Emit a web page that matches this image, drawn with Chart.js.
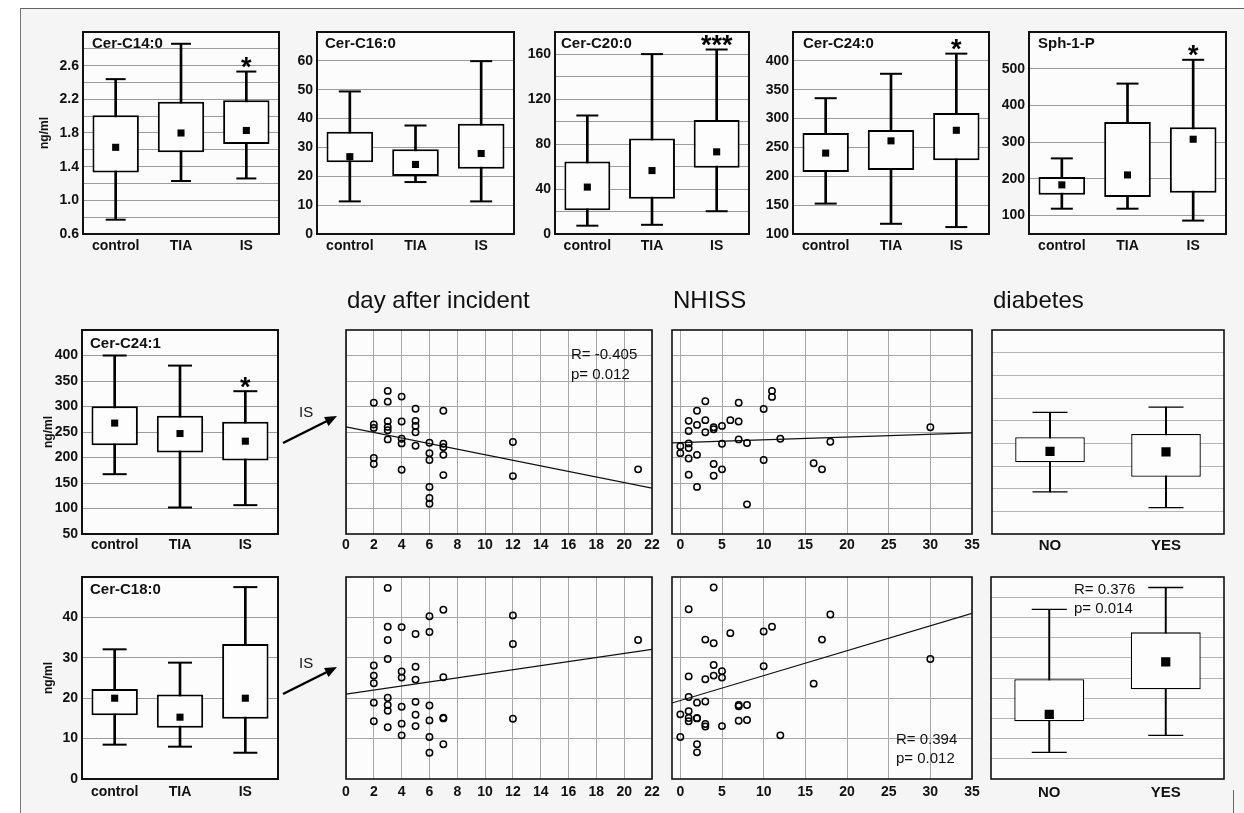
<!DOCTYPE html>
<html><head><meta charset="utf-8">
<script src="https://cdn.jsdelivr.net/npm/chart.js@4.4.0/dist/chart.umd.min.js"></script>
<style>
html,body{margin:0;padding:0;background:#fff;}
body{width:1244px;height:813px;position:relative;overflow:hidden;font-family:"Liberation Sans",Arial,sans-serif;}
#frame{position:absolute;left:20px;top:8px;width:1224px;height:805px;background:#f5f5f5;border-top:1.5px solid #666;border-left:1px solid #777;box-sizing:border-box;}
#rseg{position:absolute;left:1233px;top:790px;width:1px;height:23px;background:#666;}
canvas{position:absolute;}
#ov{position:absolute;left:0;top:0;z-index:5;}
</style></head><body>
<div id="frame"></div><div id="rseg"></div>
<svg id="ov" width="1244" height="813" xmlns="http://www.w3.org/2000/svg" font-family="Liberation Sans, Arial, sans-serif">
  <text x="347" y="308" font-size="24" fill="#111">day after incident</text>
  <text x="673" y="308" font-size="24" fill="#111">NHISS</text>
  <text x="993" y="308" font-size="24" fill="#111">diabetes</text>
  <text x="571" y="359" font-size="15" fill="#111">R= -0.405</text>
  <text x="571" y="379" font-size="15" fill="#111">p= 0.012</text>
  <text x="896" y="744" font-size="15" fill="#111">R= 0.394</text>
  <text x="896" y="763" font-size="15" fill="#111">p= 0.012</text>
  <text x="1074" y="594" font-size="15" fill="#111">R= 0.376</text>
  <text x="1074" y="613" font-size="15" fill="#111">p= 0.014</text>
  <text x="299" y="417" font-size="15" fill="#111">IS</text>
  <text x="299" y="668" font-size="15" fill="#111">IS</text>
  <line x1="283" y1="443" x2="327" y2="421" stroke="#000" stroke-width="2.5"/>
  <polygon points="337,416 328.5,425.9 324.1,416.9" fill="#000"/>
  <line x1="283" y1="694" x2="327" y2="672" stroke="#000" stroke-width="2.5"/>
  <polygon points="337,667 328.5,676.9 324.1,667.9" fill="#000"/>
</svg>
<script>
// ---------- DATA ----------
const groups = ['control', 'TIA', 'IS'];
const diabCats = ['NO', 'YES'];

// Cer-C14:0
const c14Min = [0.77, 1.23, 1.26], c14Q1 = [1.33, 1.57, 1.67], c14Mean = [1.63, 1.80, 1.83], c14Q3 = [2.01, 2.17, 2.19], c14Max = [2.44, 2.86, 2.53];
const c14Grid = [0.8, 1.0, 1.2, 1.4, 1.6, 1.8, 2.0, 2.2, 2.4, 2.6, 2.8];
const c14Labels = [0.6, 1.0, 1.4, 1.8, 2.2, 2.6];
// Cer-C16:0
const c16Min = [11.3, 18.0, 11.3], c16Q1 = [24.9, 20.1, 22.6], c16Mean = [26.8, 24.1, 27.9], c16Q3 = [35.4, 29.4, 38.2], c16Max = [49.4, 37.6, 59.9];
const c16Grid = [10, 20, 30, 40, 50, 60];
const c16Labels = [0, 10, 20, 30, 40, 50, 60];
// Cer-C20:0
const c20Min = [7.4, 8.2, 20.3], c20Q1 = [21.2, 31.5, 59.1], c20Mean = [41.8, 56.5, 73.2], c20Q3 = [64.7, 85.0, 101.5], c20Max = [105.6, 160.3, 164.4];
const c20Grid = [20, 40, 60, 80, 100, 120, 140, 160];
const c20Labels = [0, 40, 80, 120, 160];
// Cer-C24:0
const c240Min = [152.7, 117.7, 112.0], c240Q1 = [207.6, 211.0, 227.6], c240Mean = [240.2, 261.4, 279.7], c240Q3 = [275.2, 280.3, 309.5], c240Max = [335.3, 377.6, 412.5];
const c240Grid = [150, 200, 250, 300, 350, 400];
const c240Labels = [100, 150, 200, 250, 300, 350, 400];
// Sph-1-P
const sphMin = [118.9, 118.9, 86.5], sphQ1 = [156.8, 150.5, 162.0], sphMean = [183.8, 210.8, 308.0], sphQ3 = [205.4, 355.0, 340.5], sphMax = [255.9, 459.5, 524.3];
const sphGrid = [100, 200, 300, 400, 500];
const sphLabels = [100, 200, 300, 400, 500];
// Cer-C24:1
const c241Min = [167.3, 102.0, 106.6], c241Q1 = [224.0, 210.0, 194.3], c241Mean = [267.5, 247.0, 232.0], c241Q3 = [300.4, 282.0, 270.0], c241Max = [400.0, 380.2, 330.0];
const c241Grid = [100, 150, 200, 250, 300, 350, 400];
const c241Labels = [50, 100, 150, 200, 250, 300, 350, 400];
// Cer-C18:0
const c18Min = [8.5, 8.0, 6.5], c18Q1 = [15.8, 12.7, 14.9], c18Mean = [20.0, 15.3, 20.0], c18Q3 = [22.3, 20.9, 33.4], c18Max = [32.1, 28.8, 47.5];
const c18Grid = [10, 20, 30, 40];
const c18Labels = [0, 10, 20, 30, 40];

// diabetes (IS patients)
const dC241Min = [143.0, 108.3], dC241Q1 = [208.0, 176.3], dC241Mean = [232.4, 231.0], dC241Q3 = [263.5, 270.8], dC241Max = [318.1, 330.0];
const dC241Grid = [100, 150, 200, 250, 300, 350, 400, 450];
const dC18Min = [6.6, 10.8], dC18Q1 = [14.3, 22.2], dC18Mean = [16.0, 29.0], dC18Q3 = [24.7, 36.3], dC18Max = [42.0, 47.4];
const dC18Grid = [5, 10, 15, 20, 25, 30, 35, 40, 45];

// scatter: Cer-C24:1 vs day after incident
const day241X = [2,2,2,2,2, 3,3,3,3,3,3, 4,4,4,4,4, 5,5,5,5,5, 6,6,6,6,6,6, 7,7,7,7,7, 12,12, 21];
const day241Y = [307.5,264.6,258,199.2,187.3, 330.6,309.5,271.2,260,253.4,235.5, 319.4,270.5,236.9,227.6,176.1, 295.6,271.9,262,249.4,223, 228.9,208.5,195.2,142.4,120.6,109.4, 291.7,227,220.3,205.2,165.5, 230.3,163.5, 176.8];
const day241FitX = [0, 22], day241FitY = [260, 140];
// scatter: Cer-C18:0 vs day after incident
const day18X = [2,2,2,2,2, 3,3,3,3,3,3,3,3, 4,4,4,4,4,4, 5,5,5,5,5,5, 6,6,6,6,6,6, 7,7,7,7,7, 12,12,12, 21];
const day18Y = [28.1,25.6,23.7,18.9,14.3, 47.3,37.7,34.4,29.7,20.1,18.3,16.9,12.8, 37.6,26.6,25.1,17.9,13.7,10.8, 35.9,27.8,24.6,19.1,15.9,13.1, 40.3,36.4,18.2,14.5,10.4,6.5, 41.9,25.2,15.2,15.0,8.6, 40.5,33.4,14.9, 34.4];
const day18FitX = [0, 22], day18FitY = [21.0, 32.1];
// scatter: Cer-C24:1 vs NHISS
const nh241X = [0,0,1,1,1,1,1,1,2,2,2,2,3,3,3,4,4,4,4,5,5,5,6,7,7,7,8,8,10,10,11,11,12,16,17,18,30];
const nh241Y = [222.3,208.5,271.9,252.1,227.6,218.4,197.9,166.2,291.7,263.9,205.2,142.4,310.2,273.2,249.4,259.3,255.3,187.3,164.2,262,227,176.8,273.2,307.5,270.5,235.5,228.3,108.1,295,195.2,330.6,318.8,236.9,188.6,176.8,230.9,259.3];
const nh241FitX = [-1, 35], nh241FitY = [228.6, 248.4];
// scatter: Cer-C18:0 vs NHISS
const nh18X = [4,1,18,11,10,6,3,4,17,30,4,10,5,5,4,3,1,16,1,2,3,7,7,8,1,0,1,1,2,2,3,3,5,7,8,12,0,2,2];
const nh18Y = [47.4,42.0,40.7,37.7,36.5,36.1,34.5,33.6,34.5,29.7,28.2,27.9,26.7,25.1,25.6,24.7,25.4,23.6,20.3,18.9,19.2,18.3,18.0,18.3,16.8,16.0,15.1,14.3,15.1,15.0,13.6,13.0,13.1,14.4,14.6,10.8,10.4,8.6,6.6];
const nh18FitX = [-1, 35], nh18FitY = [18.8, 41.0];

const dayTicks = [0, 2, 4, 6, 8, 10, 12, 14, 16, 18, 20, 22];
const nhTicks = [0, 5, 10, 15, 20, 25, 30, 35];

// ---------- RENDERING ----------
const FONTF = '"Liberation Sans", Arial, Helvetica, sans-serif';
const TXT = '#111';

const framePlugin = {
  id: 'frame',
  beforeDraw(chart, args, o) {
    const a = chart.chartArea, ctx = chart.ctx;
    ctx.save(); ctx.fillStyle = '#fcfcfc';
    ctx.fillRect(a.left, a.top, a.right - a.left, a.bottom - a.top); ctx.restore();
  },
  afterDraw(chart, args, o) {
    const a = chart.chartArea, ctx = chart.ctx;
    ctx.save();
    ctx.strokeStyle = '#111'; ctx.lineWidth = o.lw || 2;
    ctx.strokeRect(a.left, a.top, a.right - a.left, a.bottom - a.top);
    if (o.title) {
      ctx.fillStyle = TXT; ctx.font = 'bold 15px ' + FONTF; ctx.textBaseline = 'alphabetic';
      ctx.fillText(o.title, a.left + o.tx, a.top + o.ty);
    }
    if (o.star) {
      const x = chart.scales.x.getPixelForValue(o.starIdx);
      const y = chart.scales.y.getPixelForValue(o.starVal) - 11;
      ctx.font = 'bold 27px ' + FONTF; ctx.textAlign = 'center'; ctx.textBaseline = 'alphabetic';
      ctx.fillStyle = '#000';
      ctx.fillText(o.star, x, y + 0.58 * 27);
    }
    ctx.restore();
  }
};

function place(box, pad, yW, xH) {
  const c = document.createElement('canvas');
  const w = (box[2] - box[0]) + yW + pad.l + pad.r, h = (box[3] - box[1]) + xH + pad.t + pad.b;
  c.width = w; c.height = h;
  c.style.left = (box[0] - yW - pad.l) + 'px'; c.style.top = (box[1] - pad.t) + 'px';
  c.style.width = w + 'px'; c.style.height = h + 'px';
  document.body.appendChild(c);
  return c;
}

function boxPanel(o) {
  const pad = { l: 4, t: 14, r: 8, b: 4 };
  const c = place(o.box, pad, o.yW, o.xH);
  new Chart(c, {
    type: 'bar',
    data: {
      labels: o.cats,
      datasets: [
        { type: 'line', data: o.mean, showLine: false, pointStyle: 'rect', pointRadius: o.mr, pointBackgroundColor: '#000', pointBorderColor: '#000', pointBorderWidth: 0, order: 0 },
        { type: 'line', data: o.max, showLine: false, pointStyle: 'line', pointRadius: o.cap, pointBorderColor: '#000', pointBorderWidth: o.lw, order: 1 },
        { type: 'line', data: o.min, showLine: false, pointStyle: 'line', pointRadius: o.cap, pointBorderColor: '#000', pointBorderWidth: o.lw, order: 1 },
        { type: 'bar', data: o.q1.map((v, i) => [v, o.q3[i]]), backgroundColor: '#fdfdfd', borderColor: '#000', borderWidth: o.lw, borderSkipped: false, grouped: false, barPercentage: o.bp, categoryPercentage: 1, order: 2 },
        { type: 'bar', data: o.min.map((v, i) => [v, o.max[i]]), backgroundColor: '#000', borderWidth: 0, grouped: false, barThickness: o.lw, order: 3 }
      ]
    },
    options: {
      responsive: false, animation: false, events: [],
      layout: { autoPadding: false, padding: { left: pad.l, top: pad.t, right: pad.r, bottom: pad.b } },
      plugins: { legend: { display: false }, tooltip: { enabled: false },
        frame: { lw: o.flw, title: o.title, tx: o.tx, ty: o.ty, star: o.star, starIdx: 2, starVal: o.max[2] } },
      scales: {
        x: { type: 'category', offset: true, grid: { display: false, drawTicks: false }, border: { display: false },
          ticks: { padding: o.xPad, color: TXT, autoSkip: false, maxRotation: 0, font: { family: FONTF, size: o.xfs || 14, weight: 'bold' } },
          afterFit: s => { s.height = o.xH; s.paddingLeft = 0; s.paddingRight = 0; } },
        y: { type: 'linear', min: o.ymin, max: o.ymax,
          afterBuildTicks: s => { s.ticks = o.grid.concat(o.labels || []).filter((v, i, arr) => arr.indexOf(v) === i).sort((p, q) => p - q).map(v => ({ value: v })); },
          afterFit: s => { s.width = o.yW; s.paddingTop = 0; s.paddingBottom = 0; },
          grid: { color: o.gc || '#9c9c9c', lineWidth: 1, drawTicks: false }, border: { display: false },
          ticks: { display: !!o.labels, padding: 4, color: TXT, autoSkip: false, font: { family: FONTF, size: 14, weight: 'bold' },
            callback: v => (o.labels && o.labels.some(L => Math.abs(L - v) < 1e-9)) ? v.toFixed(o.dec || 0) : '' },
          title: o.yTitle ? { display: true, text: 'ng/ml', color: TXT, font: { family: FONTF, size: 12, weight: 'bold' }, padding: { top: 4, bottom: 0 } } : { display: false }
        }
      }
    },
    plugins: [framePlugin]
  });
}

function scatterPanel(o) {
  const pad = { l: 10, t: 4, r: 14, b: 4 };
  const c = place(o.box, pad, 0, o.xH);
  new Chart(c, {
    type: 'scatter',
    data: {
      datasets: [
        { data: o.xs.map((x, i) => ({ x: x, y: o.ys[i] })), showLine: false, pointStyle: 'circle', pointRadius: 3.2, pointBorderWidth: 1.5, pointBorderColor: '#000', pointBackgroundColor: 'rgba(0,0,0,0)', order: 0 },
        { type: 'line', data: o.fx.map((x, i) => ({ x: x, y: o.fy[i] })), borderColor: '#111', borderWidth: 1.2, pointRadius: 0, fill: false, order: 1 }
      ]
    },
    options: {
      responsive: false, animation: false, events: [],
      layout: { autoPadding: false, padding: { left: pad.l, top: pad.t, right: pad.r, bottom: pad.b } },
      plugins: { legend: { display: false }, tooltip: { enabled: false }, frame: { lw: 1.6 } },
      scales: {
        x: { type: 'linear', min: o.xmin, max: o.xmax,
          afterBuildTicks: s => { s.ticks = o.xticks.map(v => ({ value: v })); },
          afterFit: s => { s.height = o.xH; s.paddingLeft = 0; s.paddingRight = 0; },
          grid: { color: '#a8a8a8', lineWidth: 1, drawTicks: false }, border: { display: false },
          ticks: { padding: o.xPad, color: TXT, autoSkip: false, maxRotation: 0, font: { family: FONTF, size: 14, weight: 'bold' } } },
        y: { type: 'linear', min: o.ymin, max: o.ymax,
          afterBuildTicks: s => { s.ticks = o.grid.map(v => ({ value: v })); },
          afterFit: s => { s.width = 0; s.paddingTop = 0; s.paddingBottom = 0; },
          grid: { color: '#a8a8a8', lineWidth: 1, drawTicks: false }, border: { display: false },
          ticks: { display: false } }
      }
    },
    plugins: [framePlugin]
  });
}

const topStyle = { lw: 2, cap: 11, mr: 5, bp: 0.71, flw: 2, xH: 22, xPad: 4, cats: groups };

boxPanel(Object.assign({}, topStyle, { box: [83, 32, 279, 234], yW: 50, yTitle: true, ymin: 0.6, ymax: 3.0, grid: c14Grid, labels: c14Labels, dec: 1,
  min: c14Min, q1: c14Q1, mean: c14Mean, q3: c14Q3, max: c14Max, title: 'Cer-C14:0', tx: 9, ty: 16, star: '*', cap: 10 }));
boxPanel(Object.assign({}, topStyle, { box: [317, 32, 514, 234], yW: 36, ymin: 0, ymax: 70, grid: c16Grid, labels: c16Labels,
  min: c16Min, q1: c16Q1, mean: c16Mean, q3: c16Q3, max: c16Max, title: 'Cer-C16:0', tx: 8, ty: 16 }));
boxPanel(Object.assign({}, topStyle, { box: [555, 32, 749, 234], yW: 36, ymin: 0, ymax: 180, grid: c20Grid, labels: c20Labels,
  min: c20Min, q1: c20Q1, mean: c20Mean, q3: c20Q3, max: c20Max, title: 'Cer-C20:0', tx: 6, ty: 16, star: '***' }));
boxPanel(Object.assign({}, topStyle, { box: [793, 32, 989, 234], yW: 36, ymin: 100, ymax: 450, grid: c240Grid, labels: c240Labels,
  min: c240Min, q1: c240Q1, mean: c240Mean, q3: c240Q3, max: c240Max, title: 'Cer-C24:0', tx: 10, ty: 16, star: '*' }));
boxPanel(Object.assign({}, topStyle, { box: [1029, 32, 1226, 234], yW: 36, ymin: 50, ymax: 600, grid: sphGrid, labels: sphLabels,
  min: sphMin, q1: sphQ1, mean: sphMean, q3: sphQ3, max: sphMax, title: 'Sph-1-P', tx: 9, ty: 16, star: '*' }));

boxPanel(Object.assign({}, topStyle, { box: [82, 330, 278, 534], yW: 45, yTitle: true, ymin: 50, ymax: 450, grid: c241Grid, labels: c241Labels, xPad: 3,
  min: c241Min, q1: c241Q1, mean: c241Mean, q3: c241Q3, max: c241Max, title: 'Cer-C24:1', tx: 8, ty: 18, star: '*', cap: 12 }));
boxPanel(Object.assign({}, topStyle, { box: [82, 577, 278, 779], yW: 45, yTitle: true, ymin: 0, ymax: 50, grid: c18Grid, labels: c18Labels, xPad: 5,
  min: c18Min, q1: c18Q1, mean: c18Mean, q3: c18Q3, max: c18Max, title: 'Cer-C18:0', tx: 8, ty: 17, cap: 12 }));

scatterPanel({ box: [346, 330, 652, 534], xH: 22, xPad: 3, xmin: 0, xmax: 22, xticks: dayTicks, ymin: 50, ymax: 450, grid: c241Grid,
  xs: day241X, ys: day241Y, fx: day241FitX, fy: day241FitY });
scatterPanel({ box: [672, 330, 972, 534], xH: 22, xPad: 3, xmin: -1, xmax: 35, xticks: nhTicks, ymin: 50, ymax: 450, grid: c241Grid,
  xs: nh241X, ys: nh241Y, fx: nh241FitX, fy: nh241FitY });
scatterPanel({ box: [346, 577, 652, 779], xH: 22, xPad: 5, xmin: 0, xmax: 22, xticks: dayTicks, ymin: 0, ymax: 50, grid: c18Grid,
  xs: day18X, ys: day18Y, fx: day18FitX, fy: day18FitY });
scatterPanel({ box: [672, 577, 972, 779], xH: 22, xPad: 5, xmin: -1, xmax: 35, xticks: nhTicks, ymin: 0, ymax: 50, grid: c18Grid,
  xs: nh18X, ys: nh18Y, fx: nh18FitX, fy: nh18FitY });

const diabStyle = { lw: 1.3, cap: 17.5, mr: 6.5, bp: 0.6, flw: 1.6, xH: 22, yW: 0, cats: diabCats, xfs: 15, gc: '#b4b4b4' };
boxPanel(Object.assign({}, diabStyle, { box: [992, 330, 1224, 534], xPad: 3, ymin: 50, ymax: 500, grid: dC241Grid,
  min: dC241Min, q1: dC241Q1, mean: dC241Mean, q3: dC241Q3, max: dC241Max }));
boxPanel(Object.assign({}, diabStyle, { box: [991, 577, 1224, 779], xPad: 5, ymin: 0, ymax: 50, grid: dC18Grid,
  min: dC18Min, q1: dC18Q1, mean: dC18Mean, q3: dC18Q3, max: dC18Max }));
</script>
</body></html>
